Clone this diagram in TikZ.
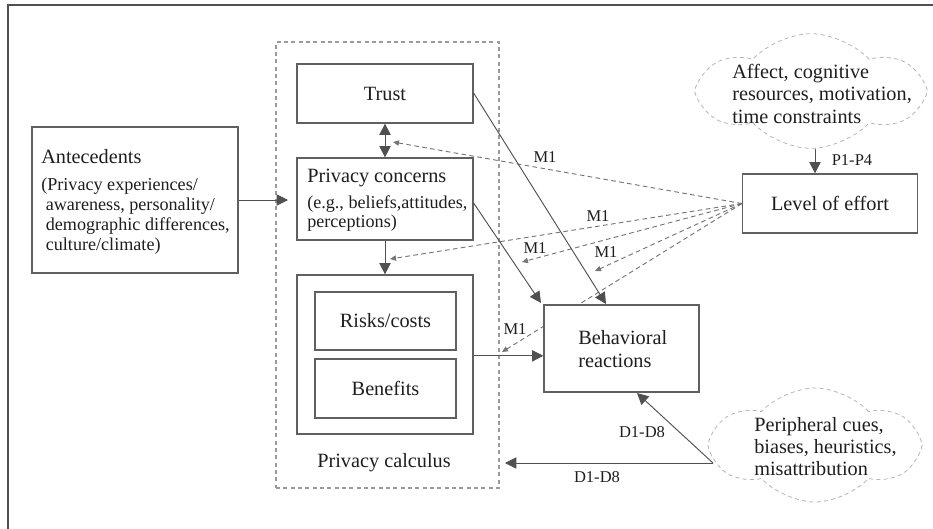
\documentclass[tikz,border=0pt]{standalone}
\usepackage{fontspec}
\setmainfont{Liberation Serif}
\usetikzlibrary{arrows.meta,shapes.symbols}
\definecolor{boxc}{HTML}{606060}
\definecolor{linec}{HTML}{505050}
\definecolor{dashc}{HTML}{757575}
\definecolor{cloudc}{HTML}{B5B5B5}
\definecolor{txt}{HTML}{1E1E1E}
\newcommand{\ttl}{\fontsize{15.2}{17}\selectfont}
\tikzset{
  boxnode/.style={draw=boxc,line width=0.9pt,fill=white,rectangle,inner sep=0pt,text=txt},
  titlefont/.style={font=\ttl},
  lblfont/.style={font=\fontsize{12.4}{14}\selectfont,text=txt,inner sep=0pt},
  solidconn/.style={draw=linec,line width=0.7pt,-{Triangle[length=8.5pt,width=8.5pt]}},
  dashconn/.style={draw=dashc,line width=0.7pt,dash pattern=on 3.5pt off 2.5pt,-{Triangle[length=4.5pt,width=4pt]}},
  cloudnode/.style={cloud,cloud puffs=6,cloud puff arc=95,cloud ignores aspect,draw=cloudc,line width=0.6pt,dash pattern=on 3pt off 2.5pt,inner sep=0pt},
  txtblock/.style={align=left,text=txt,anchor=north west,inner sep=0pt},
}
\begin{document}
\begin{tikzpicture}[x=0.75pt,y=-0.75pt]
\useasboundingbox (0,0) rectangle (933,529);
% frame
\draw[draw=linec,line width=1pt] (8,529) -- (8,5) -- (933,5);
% privacy calculus dashed box
\node[draw=cloudc!85!black,line width=0.8pt,dash pattern=on 3pt off 2.5pt,minimum width=167.25pt,minimum height=334.5pt,inner sep=0pt] (calc) at (387.5,265) {};
\node[titlefont,text=txt] (calclbl) at (384,463) {Privacy calculus};
% boxes
\node[boxnode,minimum width=132pt,minimum height=44.25pt,titlefont] (trust) at (385,93.5) {Trust};
\node[boxnode,minimum width=132pt,minimum height=61.5pt] (concerns) at (385,199) {};
\node[txtblock,font=\fontsize{13.6}{14.4}\selectfont] (concernstxt) at (307,169) {{\ttl Privacy concerns}\\[5pt](e.g., beliefs,attitudes,\\perceptions)};
\node[boxnode,minimum width=132pt,minimum height=119.25pt] (rb) at (385,354.5) {};
\node[boxnode,minimum width=105.75pt,minimum height=43.5pt,titlefont] (risks) at (385.5,321) {Risks/costs};
\node[boxnode,minimum width=105.75pt,minimum height=44.25pt,titlefont] (benefits) at (385.5,388.5) {Benefits};
\node[boxnode,minimum width=154.5pt,minimum height=109.5pt] (ante) at (135,200) {};
\node[txtblock,font=\fontsize{13.6}{15.1}\selectfont] (antetxt) at (41,149) {{\ttl Antecedents}\\[5pt](Privacy experiences/\\\ awareness, personality/\\\ demographic differences,\\\ culture/climate)};
\node[boxnode,minimum width=131.25pt,minimum height=44.25pt,titlefont] (level) at (830,203.5) {Level of effort};
% clouds
\node[cloudnode,minimum width=163.5pt,minimum height=86pt] (cloudA) at (811,91) {};
\node[txtblock,font=\fontsize{15.2}{16.8}\selectfont] (cloudAtxt) at (732,64) {Affect, cognitive\\resources, motivation,\\time constraints};
\node[cloudnode,minimum width=152pt,minimum height=85.5pt] (cloudB) at (815,445) {};
\node[txtblock,font=\fontsize{15.2}{16.5}\selectfont] (cloudBtxt) at (754,417) {Peripheral cues,\\biases, heuristics,\\misattribution};
% coordinates
\coordinate (m1) at (393,142);
\coordinate (m2) at (390,259);
\coordinate (m3) at (522,262);
\coordinate (m4) at (595,271);
\coordinate (m5) at (502,352);
\coordinate (bt1) at (606,304);
\coordinate (bt2) at (541,303);
\coordinate (ain) at (288,200);
\coordinate (cB) at (713,463);
\coordinate (bbot) at (637,393);
\coordinate (calcin) at (505,463);
% dashed connector behind behavioral box
\draw[dashconn] (level.west) -- (m5);
\node[boxnode,minimum width=116.25pt,minimum height=65.25pt] (behav) at (621.5,348.5) {};
\node[txtblock,font=\fontsize{15.2}{17.4}\selectfont] (behavtxt) at (578,330) {Behavioral\\reactions};
% dashed connectors
\draw[dashconn] (level.west) -- (m1);
\draw[dashconn] (level.west) -- (m2);
\draw[dashconn] (level.west) -- (m3);
\draw[dashconn] (level.west) -- (m4);
% solid connectors
\draw[solidconn] (ante.east |- ain) -- (ain);
\draw[draw=linec,line width=0.7pt,{Triangle[length=8.5pt,width=8.5pt]}-{Triangle[length=8.5pt,width=8.5pt]}] (trust.south) -- (concerns.north);
\draw[solidconn] (concerns.south) -- (rb.north);
\draw[solidconn] (trust.east) ++(0,-0.5) -- (bt1);
\draw[solidconn] ([yshift=-3pt]concerns.east) -- (bt2);
\draw[solidconn] ([yshift=-1pt]rb.east) -- ([yshift=-1pt]rb.east -| behav.west);
\draw[solidconn] ([xshift=3pt]cloudA.south) -- ([xshift=3pt]cloudA.south |- level.north);
\draw[solidconn] (cB) -- (bbot);
\draw[solidconn] (cB) -- (calcin);
% labels
\node[lblfont] (l1) at (545,157) {M1};
\node[lblfont] (l2) at (598,216) {M1};
\node[lblfont] (l3) at (535,248) {M1};
\node[lblfont] (l4) at (606,252) {M1};
\node[lblfont] (l5) at (515,329) {M1};
\node[lblfont] (lp) at (852,160) {P1-P4};
\node[lblfont] (ld1) at (642,432) {D1-D8};
\node[lblfont] (ld2) at (597,477) {D1-D8};
\end{tikzpicture}
\end{document}
